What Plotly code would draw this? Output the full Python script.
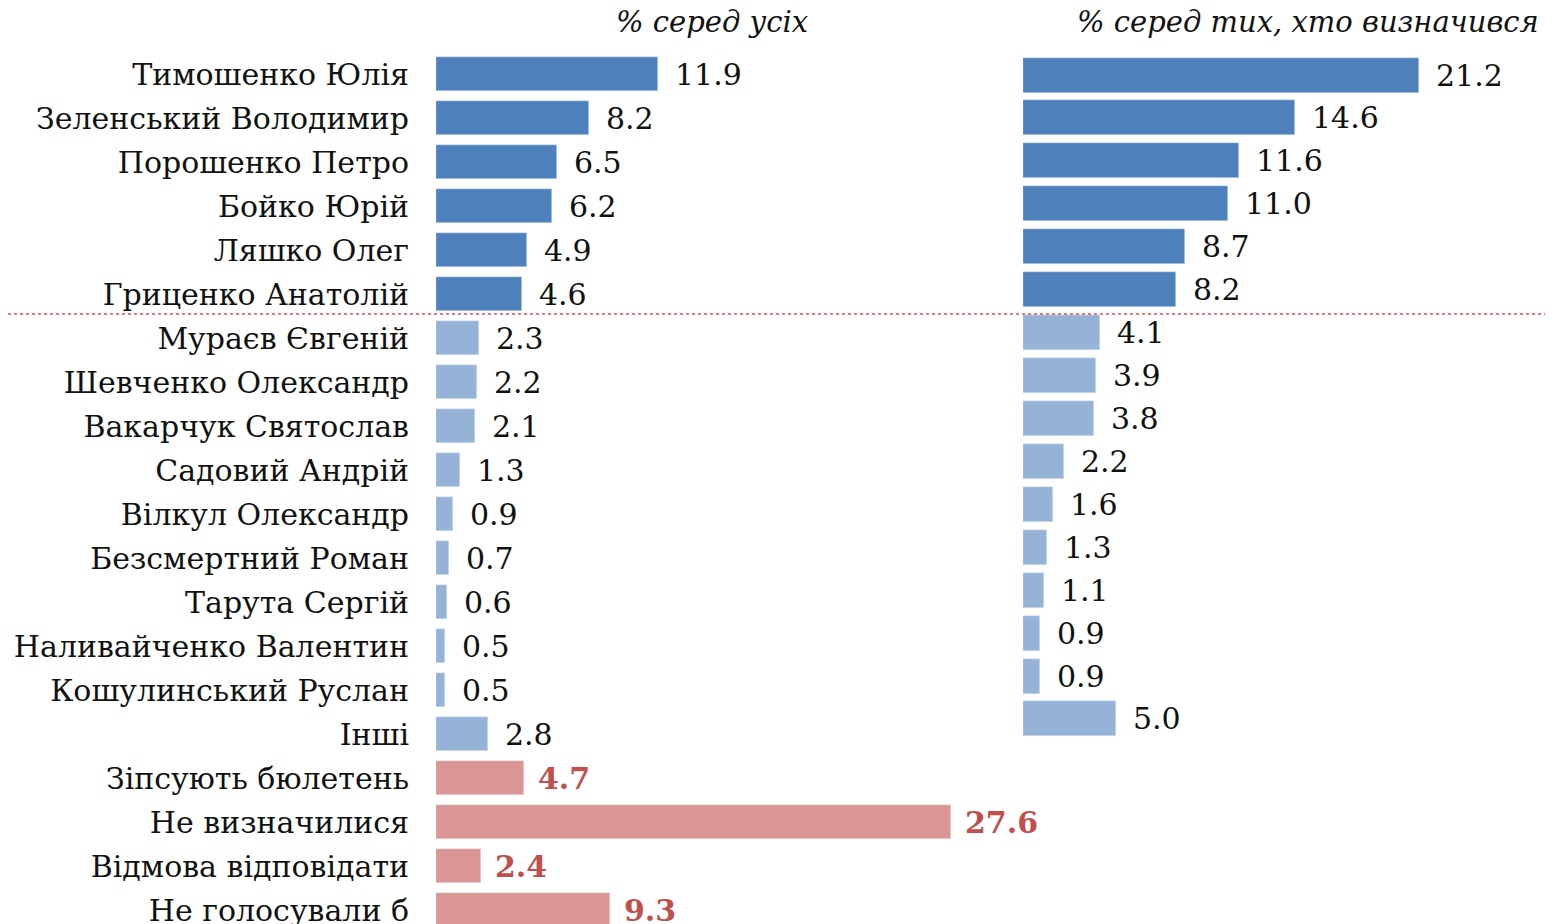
import plotly.graph_objects as go

# candidates / answers (left panel: all respondents)
labels = ["Тимошенко Юлія", "Зеленський Володимир", "Порошенко Петро", "Бойко Юрій",
          "Ляшко Олег", "Гриценко Анатолій", "Мураєв Євгеній", "Шевченко Олександр",
          "Вакарчук Святослав", "Садовий Андрій", "Вілкул Олександр", "Безсмертний Роман",
          "Тарута Сергій", "Наливайченко Валентин", "Кошулинський Руслан", "Інші",
          "Зіпсують бюлетень", "Не визначилися", "Відмова відповідати", "Не голосували б"]
all_vals = [11.9, 8.2, 6.5, 6.2, 4.9, 4.6, 2.3, 2.2, 2.1, 1.3, 0.9, 0.7, 0.6, 0.5, 0.5, 2.8,
            4.7, 27.6, 2.4, 9.3]
# right panel: among those who decided
decided_vals = [21.2, 14.6, 11.6, 11.0, 8.7, 8.2, 4.1, 3.9, 3.8, 2.2, 1.6, 1.3, 1.1, 0.9, 0.9, 5.0]

DARK, LIGHT, PINK, RED = "#4f81bd", "#95b3d7", "#d99694", "#c0504d"
FONT = "DejaVu Serif"

# the page body adds an 8px margin; work in reference pixels and shift back.
# the div runs a little past the bottom of the window, which is fine (it gets cropped)
OFF = 8
W, H = 1553 - OFF, 924
top = 40
plot_h = H - top
plot_bottom = OFF + H  # in reference pixels


def px(x):
    return (x - OFF) / W


def py(y):
    # reference pixel y -> paper y (paper spans the plot area only)
    return (plot_bottom - y) / plot_h


def colour(i):
    if i < 6:
        return DARK
    if i < 16:
        return LIGHT
    return PINK


px_unit = 18.66
lx0, lx1 = 436, 1010
rx0, rx1 = 1023, 1553
l_row0, l_step = 74, 44.0
r_row0, r_step = 75, 42.93

ly = list(range(len(all_vals)))
ry = list(range(len(decided_vals)))


def yrange(row0, step):
    t = (top + OFF - row0) / step
    b = (plot_bottom - row0) / step
    return [b, t]


fig = go.Figure()
fig.add_trace(go.Bar(x=all_vals, y=ly, orientation="h", width=34 / l_step,
                     marker_color=[colour(i) for i in ly], xaxis="x", yaxis="y",
                     showlegend=False, hoverinfo="skip"))
fig.add_trace(go.Bar(x=decided_vals, y=ry, orientation="h", width=35 / r_step,
                     marker_color=[colour(i) for i in ry], xaxis="x2", yaxis="y2",
                     showlegend=False, hoverinfo="skip"))

ann = []
for i, v in enumerate(all_vals):
    red = i >= 16
    ann.append(dict(x=v, y=i, xref="x", yref="y", text=f"{v:.1f}", showarrow=False,
                    xanchor="left", xshift=12 if red else 15,
                    font=dict(family=FONT, size=30, color=RED if red else "#111",
                              weight="bold" if red else "normal")))
for i, v in enumerate(decided_vals):
    ann.append(dict(x=v, y=i, xref="x2", yref="y2", text=f"{v:.1f}", showarrow=False,
                    xanchor="left", xshift=15, font=dict(family=FONT, size=30, color="#111")))

ann.append(dict(x=px(712), y=py(22), xref="paper", yref="paper", text="% серед усіх",
                showarrow=False, xanchor="center", yanchor="middle",
                font=dict(family=FONT, size=29, color="#111", style="italic")))
ann.append(dict(x=px(1308), y=py(22), xref="paper", yref="paper",
                text="% серед тих, хто визначився", showarrow=False, xanchor="center",
                yanchor="middle", font=dict(family=FONT, size=29, color="#111", style="italic")))

fig.update_layout(
    width=W, height=H, margin=dict(l=0, r=0, t=top, b=0),
    paper_bgcolor="white", plot_bgcolor="white", bargap=0,
    annotations=ann,
    xaxis=dict(domain=[px(lx0), px(lx1)], range=[0, (lx1 - lx0) / px_unit], visible=False),
    xaxis2=dict(domain=[px(rx0), px(rx1)], range=[0, (rx1 - rx0) / px_unit], visible=False),
    yaxis=dict(anchor="x", range=yrange(l_row0, l_step),
               tickvals=ly, ticktext=labels, ticks="", showgrid=False, zeroline=False,
               showline=False, ticklabelstandoff=26,
               tickfont=dict(family=FONT, size=30, color="#111")),
    yaxis2=dict(anchor="x2", range=yrange(r_row0, r_step),
                showticklabels=False, ticks="", showgrid=False, zeroline=False, showline=False),
    shapes=[dict(type="line", xref="paper", yref="paper", x0=0, x1=1,
                 y0=py(314), y1=py(314), line=dict(color="#e05050", width=1.5, dash="dot"))],
)

fig.write_html("out.html")
